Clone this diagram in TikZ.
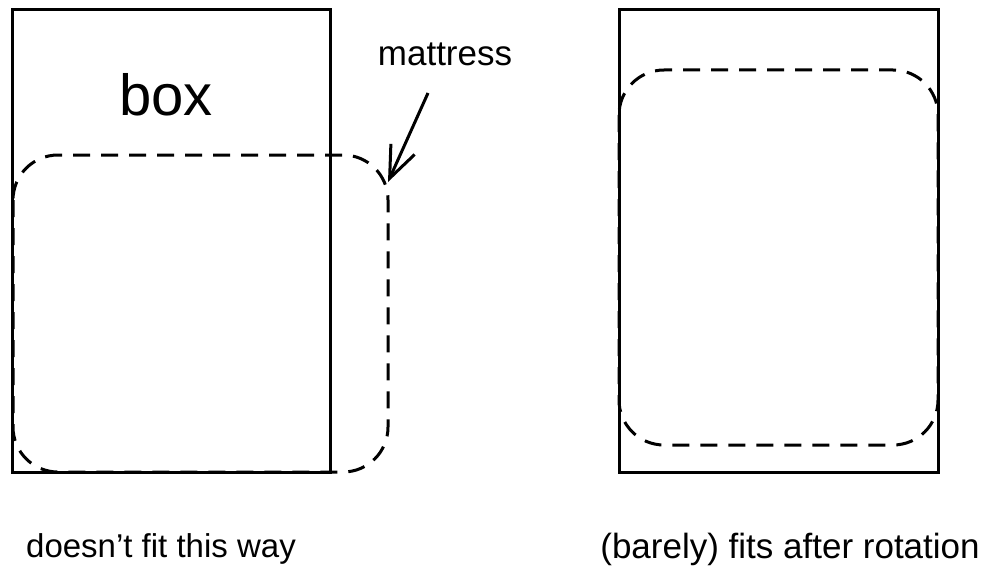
\documentclass[tikz,border=0pt]{standalone}
\usepackage{fontspec}
\setmainfont{Liberation Sans}
\usetikzlibrary{arrows.meta}
\tikzset{
  boxline/.style={draw=black, line width=3pt},
  mattressline/.style={draw=black, line width=3pt, dash pattern=on 17pt off 11pt, rounded corners=45pt},
  lbl/.style={inner sep=0pt, anchor=base},
}
\begin{document}
\begin{tikzpicture}[x=1pt,y=-1pt]
\useasboundingbox (0,0) rectangle (987,567);
% left box
\draw[boxline] (12,10) rectangle (330,472);
\node[lbl, font=\fontsize{58}{60}\selectfont] (boxlbl) at (166,116) {box};
\draw[mattressline] (13,155) rectangle (388,472);
% mattress label and arrow
\node[lbl, font=\fontsize{35}{40}\selectfont] (mlbl) at (445,66) {mattress};
\coordinate (astart) at (428,93);
\coordinate (atip) at (388,182);
\draw[line width=3pt, -{Straight Barb[length=32pt,width=26pt,line width=3pt]}] (astart) -- (atip);
% right box
\draw[boxline] (619,10) rectangle (938,472);
\draw[mattressline] (619,70) rectangle (938,445);
% captions
\node[lbl, font=\fontsize{33}{36}\selectfont] (cap1) at (161,557) {doesn’t fit this way};
\node[lbl, font=\fontsize{35}{40}\selectfont] (cap2) at (790,558) {(barely) fits after rotation};
\end{tikzpicture}
\end{document}
